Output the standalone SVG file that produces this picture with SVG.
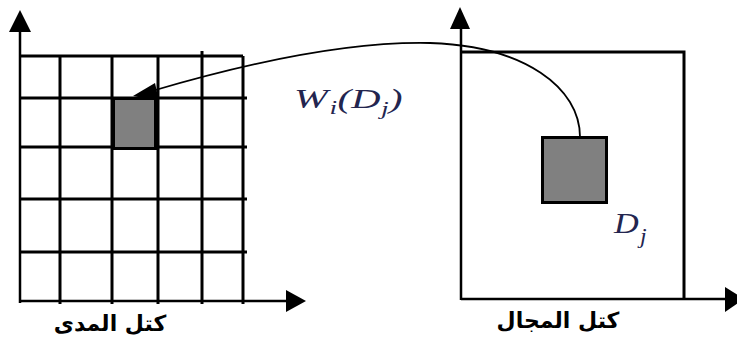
<svg xmlns="http://www.w3.org/2000/svg" width="737" height="343" viewBox="0 0 737 343">
<style>
.axis{stroke:#000;stroke-width:2.5;fill:none}
.grid{stroke:#000;stroke-width:3;fill:none}
.box{stroke:#000;stroke-width:3;fill:none}
.blk{fill:#808080;stroke:#000;stroke-width:3}
.head{fill:#000}
.ar{font-family:"DejaVu Sans",sans-serif;font-weight:bold;font-size:22px;fill:#000;text-anchor:middle}
.math{font-family:"Liberation Serif","Times New Roman",serif;font-style:italic;fill:#23254f}
</style>
<rect width="737" height="343" fill="#fff"/>
<g id="range-grid">
  <line class="axis" x1="20" y1="30" x2="20" y2="303"/>
  <polygon class="head" points="20,10 9,32 31,32"/>
  <line class="axis" x1="20" y1="301" x2="288" y2="301"/>
  <polygon class="head" points="306,301 286,290 286,312"/>
  <line class="grid" x1="20" y1="56" x2="243" y2="56"/>
  <line class="grid" x1="20" y1="98" x2="247" y2="98"/>
  <line class="grid" x1="20" y1="147" x2="247" y2="147"/>
  <line class="grid" x1="20" y1="199" x2="247" y2="199"/>
  <line class="grid" x1="20" y1="252" x2="247" y2="252"/>
  <line class="grid" x1="60" y1="56" x2="60" y2="304"/>
  <line class="grid" x1="112" y1="56" x2="112" y2="304"/>
  <line class="grid" x1="158" y1="56" x2="158" y2="304"/>
  <line class="grid" x1="202" y1="51" x2="202" y2="304"/>
  <line class="grid" x1="243" y1="56" x2="243" y2="304"/>
  <text class="ar" x="110" y="331" direction="rtl">كتل المدى</text>
</g>
<g id="range-block">
  <rect class="blk" x="113.5" y="98.5" width="42" height="50"/>
</g>
<g id="domain-box">
  <line class="axis" x1="461" y1="27" x2="461" y2="300"/>
  <polygon class="head" points="460,7 450,29 470,29"/>
  <line class="axis" x1="461" y1="299" x2="727" y2="299"/>
  <polygon class="head" points="744,299 725,287 725,312"/>
  <polyline class="box" points="461,52 684,52 684,300"/>
  <text class="ar" x="558" y="328" direction="rtl">كتل المجال</text>
</g>
<g id="domain-block">
  <rect class="blk" x="542.5" y="137.5" width="64" height="65"/>
  <g transform="translate(614,233) scale(1.18,1)">
    <text class="math" font-size="29">D<tspan font-size="20" x="22" dy="10">j</tspan></text>
  </g>
</g>
<g id="connectors">
  <path d="M580,137 C580,88 525,46 430,43 C340,41 230,68 152,91" fill="none" stroke="#000" stroke-width="1.8"/>
  <polygon class="head" points="133,96 155,83 159,101"/>
  <g transform="translate(294,108) scale(1.45,1)">
    <text class="math" font-size="28">W<tspan font-size="19" x="24.5" dy="6">i</tspan><tspan x="30" dy="-6">(</tspan><tspan x="39.5">D</tspan><tspan font-size="19" x="60" dy="7">j</tspan><tspan x="65.5" dy="-7">)</tspan></text>
  </g>
</g>
</svg>
